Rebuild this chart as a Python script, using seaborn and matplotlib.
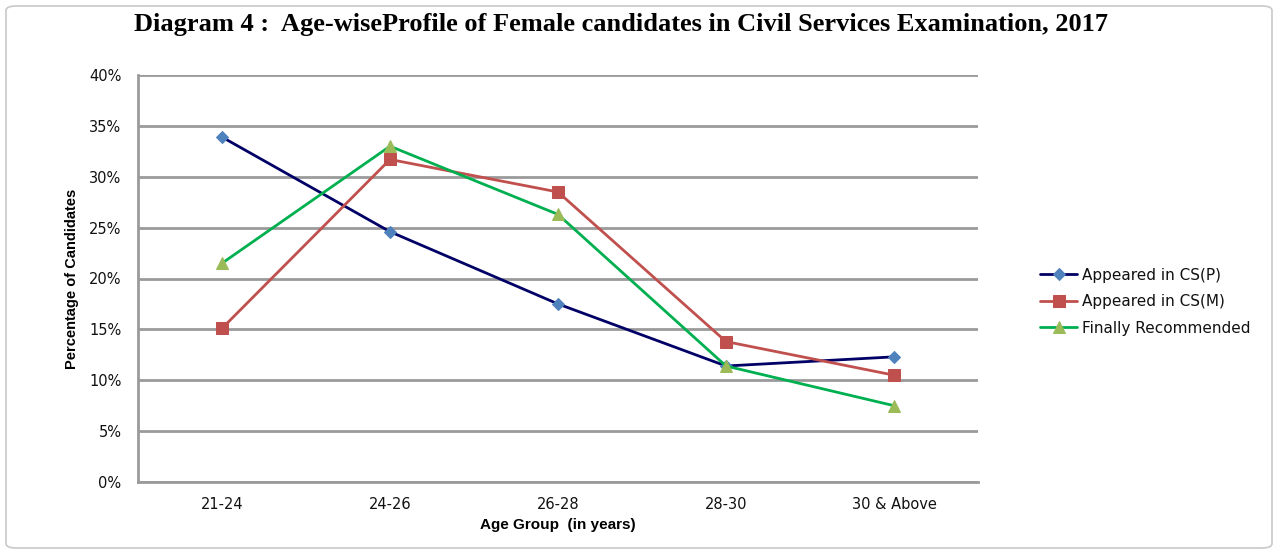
import matplotlib
matplotlib.use("Agg")
import matplotlib.pyplot as plt
from matplotlib.patches import FancyBboxPatch
from matplotlib.ticker import FuncFormatter
import seaborn as sns
import pandas as pd

age_groups = ["21-24", "24-26", "26-28", "28-30", "30 & Above"]
appeared_prelims = [33.9, 24.6, 17.5, 11.4, 12.3]
appeared_mains = [15.1, 31.7, 28.5, 13.8, 10.5]
finally_recommended = [21.5, 33.0, 26.3, 11.4, 7.5]
series_names = ["Appeared in CS(P)", "Appeared in CS(M)", "Finally Recommended"]
y_ticks = [0, 5, 10, 15, 20, 25, 30, 35, 40]

sns.set_theme(style="white")
plt.rcParams["font.family"] = ["DejaVu Sans"]
plt.rcParams["text.color"] = "black"
plt.rcParams["axes.labelcolor"] = "black"

fig = plt.figure(figsize=(12.8, 5.54), dpi=100)
ax = fig.add_axes([138 / 1280, 1 - 482 / 554, 840 / 1280, 407 / 554])

# rounded frame around the whole chart
frame = FancyBboxPatch((6 / 1280, 6 / 554), 1266 / 1280, 542 / 554,
                       boxstyle="round,pad=0,rounding_size=0.008",
                       transform=fig.transFigure, facecolor="none",
                       edgecolor="#c8c8c8", linewidth=1.2, zorder=0)
fig.patches.append(frame)

styles = [
    dict(line="#000066", face="#4F81BD", marker="D", size=6),
    dict(line="#C0504D", face="#C0504D", marker="s", size=8),
    dict(line="#00B050", face="#9BBB59", marker="^", size=9),
]
values = [appeared_prelims, appeared_mains, finally_recommended]

for name, vals, st in zip(series_names, values, styles):
    df = pd.DataFrame({"Age Group": age_groups, "Percentage": vals})
    sns.lineplot(data=df, x="Age Group", y="Percentage", ax=ax,
                 color=st["line"], linewidth=2, marker=st["marker"],
                 markersize=st["size"], markerfacecolor=st["face"],
                 markeredgecolor=st["face"], label=name, sort=False, zorder=3)

ax.set_xlim(-0.5, 4.5)
ax.set_ylim(0, 40)
ax.set_yticks(y_ticks)
ax.yaxis.set_major_formatter(FuncFormatter(lambda v, p: f"{int(v)}%"))
ax.grid(axis="y", color="#9a9a9a", linewidth=2)
ax.set_axisbelow(True)
for side in ["top", "right"]:
    ax.spines[side].set_visible(False)
for side in ["left", "bottom"]:
    ax.spines[side].set_color("#9a9a9a")
    ax.spines[side].set_linewidth(2)
ax.tick_params(axis="both", length=0, labelsize=10.5, colors="#111111")
ax.tick_params(axis="x", pad=11)
ax.tick_params(axis="y", pad=12)

label_font = ["Liberation Sans Narrow", "Liberation Sans", "DejaVu Sans"]
ax.set_xlabel("Age Group  (in years)", fontsize=11, fontweight="bold",
              family=label_font, labelpad=4)
ax.set_ylabel("Percentage of Candidates", fontsize=10.5, fontweight="bold",
              family=label_font, labelpad=7)

leg = ax.legend(loc="center left", bbox_to_anchor=(1.058, 0.443), frameon=False,
                fontsize=11, handlelength=2.4, labelspacing=0.75,
                handletextpad=0.3)
for txt in leg.get_texts():
    txt.set_color("#111111")

fig.text(0.485, 1 - 25 / 554,
         "Diagram 4 :  Age-wiseProfile of Female candidates in Civil Services Examination, 2017",
         ha="center", va="center", fontsize=19, fontweight="bold", color="black",
         family=["Liberation Serif", "DejaVu Serif"])

fig.savefig("out.png", dpi=100)
